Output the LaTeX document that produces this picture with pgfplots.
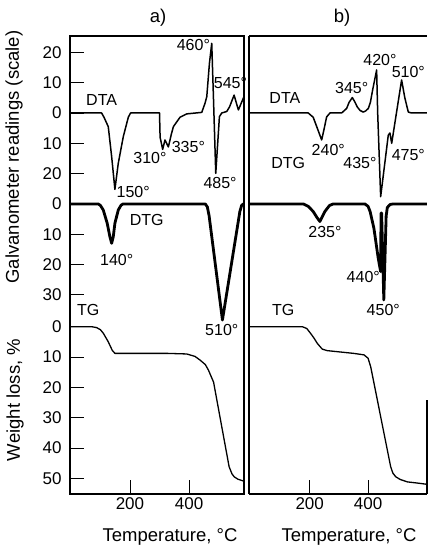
\documentclass[border=0pt]{standalone}
\usepackage{fontspec}
\setmainfont{Liberation Sans}
\usepackage{pgfplots}
\usepackage{pgfplotstable}
\pgfplotsset{compat=1.18}

% Panel a) -------------------------------------------------------
\pgfplotstableread{
T u
-3 0
104 0
112 -1.4
126.5 -4.5
138 -14.4
149 -25.2
160.4 -16.6
177.4 -7.8
194.4 -1.4
202 0
300 0
302 -8
310.7 -12
318.6 -8.9
330 -11.2
340 -7
347 -4.5
369.5 -1.4
392 -0.3
443 0.2
454 3.2
460 5.4
469 16.4
476.8 23
482.5 5.4
490.4 -19.9
502.8 -1.2
510.7 0
527.7 0.5
537 2
552.5 5.9
567 1
586 5.4
}\dtaA

\pgfplotstableread{
T d
-3 0
92.6 0
100 0.5
109.6 2
123 6.4
132 10.8
138 13
143.5 10.8
149 6.4
160.4 2
170 0.4
177 0
455 0
462 1
468 4
513 38.3
572 2.5
578 0.5
584 0
586 0
}\dtgA

\pgfplotstableread{
T w
-3 0
70 0
87 0.3
100 1
110 2.2
126.6 5
140 7.8
149 8.8
200 8.8
324 8.8
392 9
420 9.8
437 11
455 12.5
465.5 14.3
483 18.3
535.6 46.2
545 48.5
552.5 49.5
565 50.3
580.7 50.8
586 51
}\tgA

% Panel b) -------------------------------------------------------
\pgfplotstableread{
T u
-8 0
195 0
212 -1.4
226 -5
241 -8.9
250 -5
258 -1.3
269.5 0
309.5 0
326.6 1.5
335 3.5
346 5.1
354 3.8
363 2
373 0.8
383.7 0.3
392 0.7
400.9 1.5
408 3.5
415.7 7.6
429.4 14.2
433 0
443.2 -27.6
469.3 -7.3
475 -6.6
481 -10
515 10.9
526 5
538 0.3
549 0
602 0
}\dtaB

\pgfplotstableread{
T d
-8 0
178 0
195 0.8
212 2.5
225 4.5
235 5.8
243 4.2
252 2.5
268 0.5
281 0
389 0
400 0.8
407 2.5
420 8
435 18
443 22.3
444.5 3
446.5 3
454 31.7
462 4
466 1.2
475 0.2
486 0
602 0
}\dtgB

\pgfplotstableread{
T w
-8 0
174.6 0
190 0.6
203 2.2
215 3.8
226 5.5
243 7.4
260 7.9
300 8.3
350 8.8
386 9.3
400 10.4
409 13.2
477.5 46.2
485 48.3
494.7 49.5
510 50.4
534.5 51.2
570 51.6
602 52
}\tgB

\begin{document}
\begin{tikzpicture}[font=\fontsize{16}{19}\selectfont]
\useasboundingbox (0pt,0pt) rectangle (428pt,546pt);
\pgfplotsset{
  panel/.style={
    scale only axis, anchor=south west, height=458pt,
    ymin=-125.7, ymax=25.4, clip=false,
    tick align=inside, major tick length=14pt,
    xtick={200,400},
    tick pos=left,
    tick style={line width=0.8pt, black},
    axis line style={line width=1.2pt},
    /pgf/number format/assume math mode=true,
    ticklabel style={font=\fontsize{17}{20}\selectfont},
  },
  dta/.style={black, line width=1.5pt, line join=round, no marks},
  dtg/.style={black, line width=2.8pt, line join=round, no marks},
  tg/.style={black, line width=1.3pt, line join=round, no marks},
}

\begin{axis}[panel, at={(70pt,52pt)}, width=174pt, xmin=-3, xmax=586,
  ytick={20,10,0,-10,-20,-30,-40,-50,-60,-70.5,-80.5,-90.5,-100.5,-110.5,-120.5},
  yticklabels={20,10,0,10,20,0,10,20,30,0,10,20,30,40,50},
  yticklabel style={xshift=-5pt}]
\addplot[dta] table[x=T,y=u] {\dtaA};
\addplot[dtg] table[x=T,y expr=-30-\thisrow{d}] {\dtgA};
\addplot[tg] table[x=T,y expr=-70.5-\thisrow{w}] {\tgA};
\node at (axis cs:104,4.3) {DTA};
\node at (axis cs:414.6,22.4) {460°};
\node at (axis cs:540,9.8) {545°};
\node at (axis cs:267.8,-15) {310°};
\node at (axis cs:397.7,-11.1) {335°};
\node at (axis cs:211,-26) {150°};
\node at (axis cs:505,-23.2) {485°};
\node at (axis cs:256.6,-35.3) {DTG};
\node at (axis cs:155,-48.5) {140°};
\node at (axis cs:510.8,-71.6) {510°};
\node at (axis cs:58.6,-65) {TG};
\end{axis}

\begin{axis}[panel, at={(249pt,52pt)}, width=178pt, xmin=-8, xmax=602,
  ytick=\empty, axis y line*=left, axis x line*=box]
\addplot[dta] table[x=T,y=u] {\dtaB};
\addplot[dtg] table[x=T,y expr=-30-\thisrow{d}] {\dtgB};
\addplot[tg] table[x=T,y expr=-70.5-\thisrow{w}] {\tgB};
\draw[line width=1.2pt] (rel axis cs:1,0) -- (rel axis cs:1,0.205);
\node at (axis cs:115,4.8) {DTA};
\node at (axis cs:263.6,-12.2) {240°};
\node at (axis cs:343.8,8.1) {345°};
\node at (axis cs:440.9,17.5) {420°};
\node at (axis cs:538,13.6) {510°};
\node at (axis cs:538,-13.9) {475°};
\node at (axis cs:372.3,-16.6) {435°};
\node at (axis cs:126.5,-16.6) {DTG};
\node at (axis cs:252.3,-39.2) {235°};
\node at (axis cs:383.6,-54.2) {440°};
\node at (axis cs:452.2,-65) {450°};
\node at (axis cs:109.4,-65) {TG};
\end{axis}

\begin{scope}[font=\fontsize{18.5}{22}\selectfont]
\node at (158pt,528pt) {a)};
\node at (342pt,528pt) {b)};
\node at (170pt,9pt) {Temperature, °C};
\node at (349pt,9pt) {Temperature, °C};
\node[rotate=90] at (14pt,389pt) {Galvanometer readings (scale)};
\node[rotate=90] at (15pt,146pt) {Weight loss, \%};
\end{scope}
\end{tikzpicture}
\end{document}
